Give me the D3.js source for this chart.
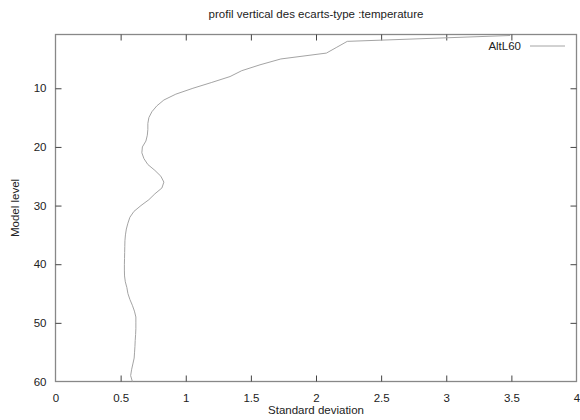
<!DOCTYPE html>
<html>
<head>
<meta charset="utf-8">
<script src="https://cdn.jsdelivr.net/npm/d3@7"></script>
<style>
  html, body { margin: 0; padding: 0; background: #fff; }
  svg { display: block; font-family: "Liberation Sans", Arial, sans-serif; }
</style>
</head>
<body>
<svg id="chart" width="580" height="420"></svg>
<script>
// Standard deviation of temperature per model level (1 = top, 60 = bottom)
const levels = d3.range(1, 61);
const stdDev = [
  3.49, 2.24, 2.16, 2.08, 1.73, 1.57, 1.43, 1.34, 1.20, 1.055,
  0.924, 0.832, 0.778, 0.740, 0.717, 0.709, 0.709, 0.705, 0.694, 0.667,
  0.663, 0.679, 0.709, 0.763, 0.809, 0.832, 0.817, 0.763, 0.717, 0.656,
  0.602, 0.571, 0.556, 0.544, 0.537, 0.533, 0.532, 0.531, 0.530, 0.529,
  0.529, 0.530, 0.536, 0.548, 0.556, 0.571, 0.590, 0.606, 0.617, 0.617,
  0.617, 0.615, 0.612, 0.610, 0.607, 0.604, 0.594, 0.584, 0.577, 0.590
];
const xTicks = [0, 0.5, 1, 1.5, 2, 2.5, 3, 3.5, 4];
const yTicks = [10, 20, 30, 40, 50, 60];
const seriesName = "AltL60";
const titleText = "profil vertical des ecarts-type :temperature";
const xLabel = "Standard deviation";
const yLabel = "Model level";

const svg = d3.select("#chart");
const m = { left: 55.5, right: 576.5, top: 34.5, bottom: 381.5 };

const x = d3.scaleLinear().domain([0, 4]).range([m.left, m.right]);
const y = d3.scaleLinear().domain([1, 60]).range([m.top + 1, m.bottom]);

const textColor = "#222";
const frameColor = "#888";
const curveColor = "#a4a4a4";
const tickLen = 6;

// Frame
svg.append("rect")
  .attr("x", m.left).attr("y", m.top)
  .attr("width", m.right - m.left).attr("height", m.bottom - m.top)
  .attr("fill", "none").attr("stroke", frameColor).attr("stroke-width", 1.3);

// Bottom axis with mirrored ticks on top
const xAxis = d3.axisBottom(x).tickValues(xTicks).tickSize(-tickLen).tickPadding(tickLen + 6)
  .tickFormat(d3.format("~g"));
const gx = svg.append("g").attr("transform", `translate(0,${m.bottom})`).call(xAxis);
const xTop = d3.axisTop(x).tickValues(xTicks).tickSize(-tickLen).tickFormat("");
const gxt = svg.append("g").attr("transform", `translate(0,${m.top})`).call(xTop);

// Left axis with mirrored ticks on right
const yAxis = d3.axisLeft(y).tickValues(yTicks).tickSize(-tickLen).tickPadding(tickLen + 3);
const gy = svg.append("g").attr("transform", `translate(${m.left},0)`).call(yAxis);
const yRight = d3.axisRight(y).tickValues(yTicks).tickSize(-tickLen).tickFormat("");
const gyr = svg.append("g").attr("transform", `translate(${m.right},0)`).call(yRight);

[gx, gxt, gy, gyr].forEach(g => {
  g.select(".domain").remove();
  g.selectAll(".tick line").attr("stroke", "#444").attr("stroke-width", 1);
  g.selectAll(".tick text").attr("fill", textColor).attr("font-size", 11.5)
    .attr("font-family", "Liberation Sans, Arial, sans-serif");
});
// ticks at the frame corners are hidden by the frame itself
gx.selectAll(".tick").filter(d => d === 0 || d === 4).select("line").remove();
gxt.selectAll(".tick").filter(d => d === 0 || d === 4).select("line").remove();
gy.selectAll(".tick").filter(d => d === 60).select("line").remove();
gyr.selectAll(".tick").filter(d => d === 60).select("line").remove();

// Profile curve
const line = d3.line()
  .x((d, i) => x(stdDev[i]))
  .y(d => y(d));
svg.append("path")
  .datum(levels)
  .attr("d", line)
  .attr("fill", "none")
  .attr("stroke", curveColor)
  .attr("stroke-width", 1);

// Legend
const legY = 46;
svg.append("text")
  .attr("x", 521).attr("y", legY).attr("dy", "0.35em")
  .attr("text-anchor", "end").attr("fill", textColor).attr("font-size", 11.5)
  .text(seriesName);
svg.append("line")
  .attr("x1", 530).attr("x2", 565).attr("y1", legY).attr("y2", legY)
  .attr("stroke", curveColor).attr("stroke-width", 1);

// Title and axis labels
svg.append("text")
  .attr("x", (m.left + m.right) / 2).attr("y", 18)
  .attr("text-anchor", "middle").attr("fill", textColor).attr("font-size", 11.5)
  .text(titleText);
svg.append("text")
  .attr("x", (m.left + m.right) / 2).attr("y", 414)
  .attr("text-anchor", "middle").attr("fill", textColor).attr("font-size", 11.5)
  .text(xLabel);
svg.append("text")
  .attr("transform", `translate(19,${(m.top + m.bottom) / 2}) rotate(-90)`)
  .attr("text-anchor", "middle").attr("fill", textColor).attr("font-size", 11.5)
  .text(yLabel);
</script>
</body>
</html>
